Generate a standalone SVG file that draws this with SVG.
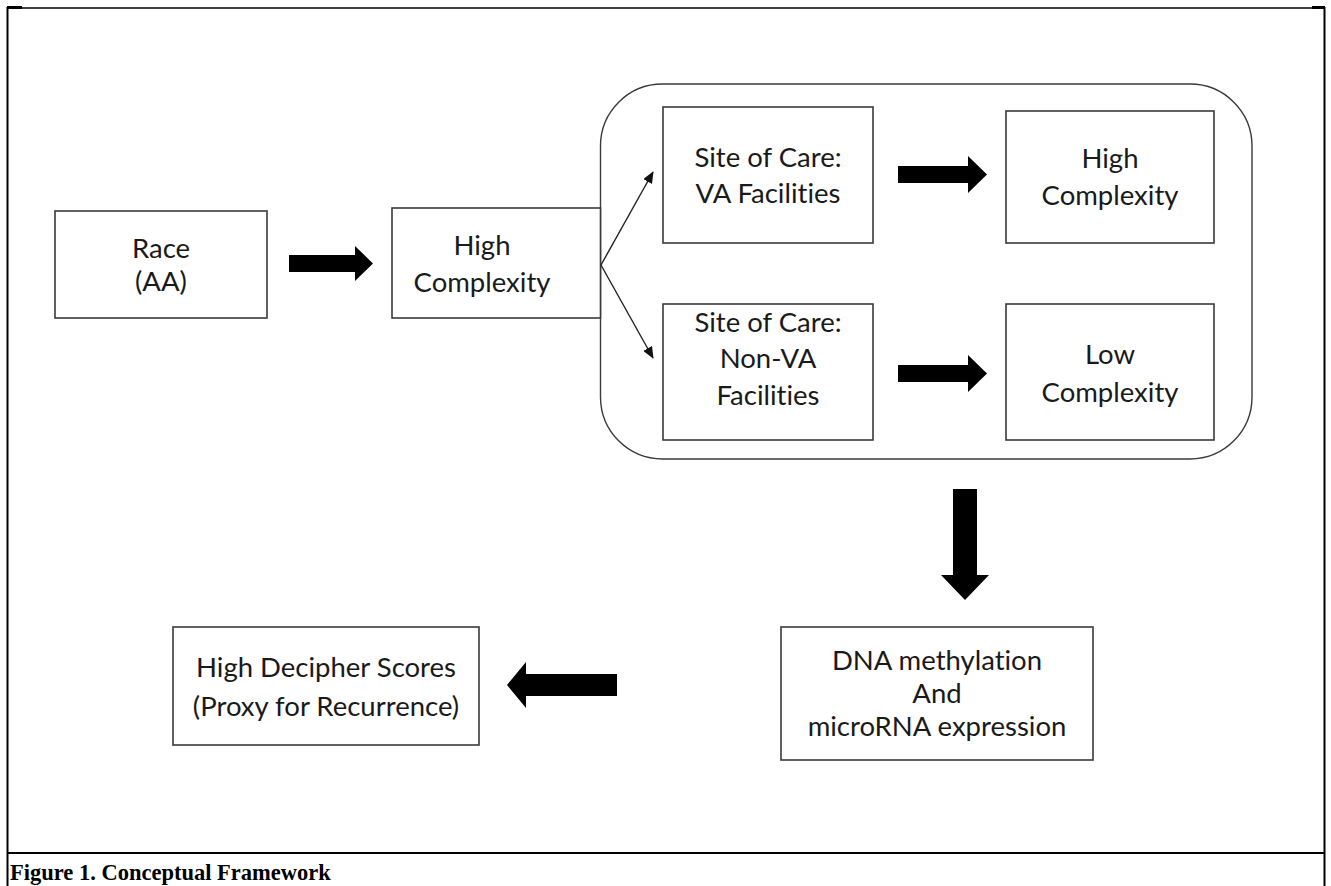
<svg xmlns="http://www.w3.org/2000/svg" width="1331" height="886" viewBox="0 0 1331 886">
<style>
.box{fill:#fff;stroke:#3a3a3a;stroke-width:1.6}
.cont{fill:none;stroke:#3a3a3a;stroke-width:1.4}
.t{font-family:Lato,"Open Sans",sans-serif;font-size:27.5px;fill:#1a1a1a;text-anchor:middle;font-variant-ligatures:none;font-feature-settings:"liga" 0}
.frame{stroke:#000;fill:none}
.thick{fill:#000}
.thin{stroke:#222;stroke-width:1.4;fill:none}
.cap{font-family:"Liberation Serif","Times New Roman",serif;font-weight:bold;font-size:22.5px;fill:#000}
</style>
<defs>
<marker id="ah" viewBox="0 0 12 10" refX="11" refY="5" markerWidth="12" markerHeight="10" markerUnits="userSpaceOnUse" orient="auto">
<path d="M0,0 L12,5 L0,10 Z" fill="#111"/>
</marker>
</defs>
<rect width="1331" height="886" fill="#fff"/>
<g id="frame">
<line class="frame" x1="7" y1="8" x2="1325" y2="8" stroke-width="1.4"/>
<line class="frame" x1="7" y1="7.5" x2="22" y2="7.5" stroke-width="3"/>
<line class="frame" x1="1312" y1="7.5" x2="1325" y2="7.5" stroke-width="3"/>
<line class="frame" x1="7.5" y1="7" x2="7.5" y2="886" stroke-width="2"/>
<line class="frame" x1="1324.5" y1="7" x2="1324.5" y2="886" stroke-width="2"/>
<line class="frame" x1="7" y1="853" x2="1325" y2="853" stroke-width="2"/>
</g>
<g id="container">
<rect class="cont" x="600.5" y="84" width="651.5" height="375" rx="62" ry="62"/>
</g>
<g id="race">
<rect class="box" x="55" y="211" width="212" height="107"/>
<text class="t" x="161" y="258">Race</text>
<text class="t" x="161" y="291">(AA)</text>
</g>
<g id="high1">
<rect class="box" x="392" y="208" width="208.5" height="110"/>
<text class="t" x="482" y="255">High</text>
<text class="t" x="482" y="292">Complexity</text>
</g>
<g id="va">
<rect class="box" x="663" y="107" width="210" height="136"/>
<text class="t" x="768" y="167">Site of Care:</text>
<text class="t" x="768" y="203">VA Facilities</text>
</g>
<g id="nonva">
<rect class="box" x="663" y="304" width="210" height="136"/>
<text class="t" x="768" y="332">Site of Care:</text>
<text class="t" x="768" y="368">Non-VA</text>
<text class="t" x="768" y="405">Facilities</text>
</g>
<g id="high2">
<rect class="box" x="1006" y="111" width="208" height="132"/>
<text class="t" x="1110" y="168">High</text>
<text class="t" x="1110" y="205">Complexity</text>
</g>
<g id="low">
<rect class="box" x="1006" y="304" width="208" height="136"/>
<text class="t" x="1110" y="364">Low</text>
<text class="t" x="1110" y="402">Complexity</text>
</g>
<g id="dna">
<rect class="box" x="781" y="627" width="312" height="133"/>
<text class="t" x="937" y="670">DNA methylation</text>
<text class="t" x="937" y="703">And</text>
<text class="t" x="937" y="736">microRNA expression</text>
</g>
<g id="decipher">
<rect class="box" x="173" y="627" width="306" height="118"/>
<text class="t" x="326" y="677">High Decipher Scores</text>
<text class="t" x="326" y="716">(Proxy for Recurrence)</text>
</g>
<g id="connectors">
<polygon class="thick" points="289,255 355,255 355,246 373,263.5 355,281 355,272 289,272"/>
<line class="thin" x1="601" y1="265" x2="653" y2="172" marker-end="url(#ah)"/>
<line class="thin" x1="601" y1="265" x2="653" y2="358" marker-end="url(#ah)"/>
<polygon class="thick" points="898,166 968,166 968,156 987,174.5 968,193 968,183 898,183"/>
<polygon class="thick" points="898,365 968,365 968,355 987,373.5 968,392 968,382 898,382"/>
<polygon class="thick" points="953,489 977,489 977,575 989,575 965,600 941,575 953,575"/>
<polygon class="thick" points="617,674 526,674 526,662 507,685 526,708 526,696 617,696"/>
</g>
<text class="cap" x="10" y="880">Figure 1. Conceptual Framework</text>
</svg>
